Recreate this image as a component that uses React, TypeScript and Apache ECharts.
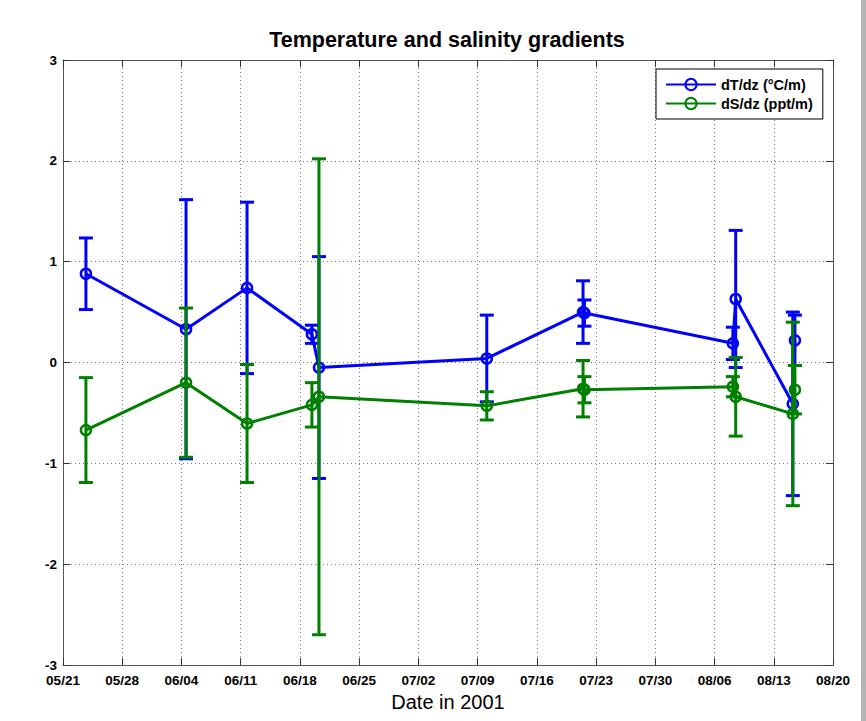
import React, { useEffect, useRef } from "react";
import * as echarts from "echarts";

// Tick labels along the date axis (weekly from 05/21/2001)
const tickLabels = ["05/21", "05/28", "06/04", "06/11", "06/18", "06/25", "07/02", "07/09", "07/16", "07/23", "07/30", "08/06", "08/13", "08/20"];
const yTicks = [-3, -2, -1, 0, 1, 2, 3];

// Sample times (2001)
const sampleTimes = [
  "2001-05-23T17:00", "2001-06-04T13:00", "2001-06-11T18:00", "2001-06-19T10:00",
  "2001-06-20T06:00", "2001-07-10T02:00", "2001-07-21T11:00", "2001-07-21T15:00",
  "2001-08-08T04:00", "2001-08-08T12:00", "2001-08-15T06:00", "2001-08-15T12:00",
];

// dT/dz (°C/m) and its error
const dTdz = [0.88, 0.33, 0.74, 0.28, -0.05, 0.04, 0.50, 0.49, 0.19, 0.63, -0.41, 0.22];
const dTdzErr = [0.355, 1.285, 0.85, 0.09, 1.1, 0.43, 0.31, 0.13, 0.16, 0.68, 0.91, 0.25];

// dS/dz (ppt/m) and its error
const dSdz = [-0.67, -0.20, -0.605, -0.42, -0.34, -0.43, -0.26, -0.27, -0.24, -0.34, -0.51, -0.27];
const dSdzErr = [0.52, 0.74, 0.585, 0.22, 2.36, 0.14, 0.28, 0.13, 0.10, 0.39, 0.91, 0.24];

const seriesNames = ["dT/dz (°C/m)", "dS/dz (ppt/m)"];
const BLUE = "#0000ff";
const GREEN = "#008000";
const FONT = "'Liberation Sans', Arial, Helvetica, sans-serif";

const origin = Date.UTC(2001, 4, 21);
function dayOffset(s: string): number {
  const [d, t] = s.split("T");
  const [y, m, dd] = d.split("-").map(Number);
  const [hh, mm] = t.split(":").map(Number);
  return (Date.UTC(y, m - 1, dd, hh, mm) - origin) / 86400000;
}

export default function App() {
  const ref = useRef<HTMLDivElement>(null);
  useEffect(() => {
    document.body.style.margin = "0";
    const chart = echarts.init(ref.current!, null, { renderer: "svg" });
    const xs = sampleTimes.map(dayOffset);
    const lineData = (vals: number[]) => vals.map((v, i) => [xs[i], v]);
    const errData = (vals: number[], errs: number[]) => vals.map((v, i) => [xs[i], v - errs[i], v + errs[i]]);
    const errRender = (color: string) => (params: any, api: any) => {
      const x = api.value(0);
      const lo = api.coord([x, api.value(1)]);
      const hi = api.coord([x, api.value(2)]);
      const w = 7;
      const style = { stroke: color, lineWidth: 3 };
      return {
        type: "group",
        children: [
          { type: "line", shape: { x1: hi[0], y1: hi[1], x2: lo[0], y2: lo[1] }, style },
          { type: "line", shape: { x1: hi[0] - w, y1: hi[1], x2: hi[0] + w, y2: hi[1] }, style },
          { type: "line", shape: { x1: lo[0] - w, y1: lo[1], x2: lo[0] + w, y2: lo[1] }, style },
        ],
      };
    };
    const maxDay = (tickLabels.length - 1) * 7;
    const gridLine = { show: true, lineStyle: { color: "#777", type: [1, 3] as any, width: 1 } };
    const axisLine = { show: true, onZero: false, lineStyle: { color: "#555", width: 1 } };
    const tick = { show: true, inside: true, length: 7, lineStyle: { color: "#333" } };
    const labelStyle = { color: "#000", fontWeight: "bold" as const, fontSize: 13.5, fontFamily: FONT };

    chart.setOption({
      animation: false,
      backgroundColor: "#fff",
      title: {
        text: "Temperature and salinity gradients",
        left: 447,
        top: 29,
        padding: 0,
        textAlign: "center",
        textStyle: { fontSize: 21.5, fontWeight: "bold", color: "#000", fontFamily: FONT },
      },
      legend: {
        data: seriesNames,
        orient: "vertical",
        left: 656,
        top: 69,
        padding: [8, 10, 8, 9],
        itemGap: 4,
        itemWidth: 50,
        itemHeight: 14,
        backgroundColor: "#fff",
        borderColor: "#000",
        borderWidth: 1,
        borderRadius: 0,
        textStyle: { fontSize: 14.5, fontWeight: "bold", color: "#000", fontFamily: FONT },
      },
      grid: { left: 63, top: 60, width: 770, height: 605, containLabel: false },
      xAxis: [
        {
          type: "value",
          min: 0,
          max: maxDay,
          interval: 7,
          axisLine,
          axisTick: tick,
          splitLine: gridLine,
          axisLabel: {
            ...labelStyle,
            margin: 8,
            showMinLabel: true,
            showMaxLabel: true,
            formatter: (v: number) => tickLabels[Math.round(v / 7)] ?? "",
          },
          name: "Date in 2001",
          nameLocation: "middle",
          nameGap: 27,
          nameTextStyle: { fontSize: 20, color: "#000", fontFamily: FONT },
        },
        {
          type: "value",
          position: "top",
          min: 0,
          max: maxDay,
          interval: 7,
          axisLine,
          axisTick: tick,
          splitLine: { show: false },
          axisLabel: { show: false },
        },
      ],
      yAxis: [
        {
          type: "value",
          min: yTicks[0],
          max: yTicks[yTicks.length - 1],
          interval: 1,
          axisLine,
          axisTick: tick,
          splitLine: gridLine,
          axisLabel: { ...labelStyle, margin: 6, verticalAlign: "middle", lineHeight: 12, padding: [0, 0, 4, 0] },
        },
        {
          type: "value",
          position: "right",
          min: yTicks[0],
          max: yTicks[yTicks.length - 1],
          interval: 1,
          axisLine,
          axisTick: tick,
          splitLine: { show: false },
          axisLabel: { show: false },
        },
      ],
      series: [
        {
          type: "custom",
          name: seriesNames[0] + " err",
          xAxisIndex: 0,
          yAxisIndex: 0,
          renderItem: errRender(BLUE),
          data: errData(dTdz, dTdzErr),
          encode: { x: 0, y: [1, 2] },
          z: 2,
        },
        {
          type: "line",
          name: seriesNames[0],
          data: lineData(dTdz),
          color: BLUE,
          symbol: "circle",
          symbolSize: 10,
          itemStyle: { color: "transparent", borderColor: BLUE, borderWidth: 2.5 },
          lineStyle: { color: BLUE, width: 3 },
          z: 3,
        },
        {
          type: "custom",
          name: seriesNames[1] + " err",
          xAxisIndex: 0,
          yAxisIndex: 0,
          renderItem: errRender(GREEN),
          data: errData(dSdz, dSdzErr),
          encode: { x: 0, y: [1, 2] },
          z: 4,
        },
        {
          type: "line",
          name: seriesNames[1],
          data: lineData(dSdz),
          color: GREEN,
          symbol: "circle",
          symbolSize: 10,
          itemStyle: { color: "transparent", borderColor: GREEN, borderWidth: 2.5 },
          lineStyle: { color: GREEN, width: 3 },
          z: 5,
        },
      ],
      graphic: [
        { type: "rect", left: 861, top: 0, shape: { width: 5, height: 721 }, style: { fill: "#b4b4b4" }, silent: true },
      ],
    });
    return () => chart.dispose();
  }, []);
  return <div ref={ref} style={{ width: 866, height: 721 }} />;
}
